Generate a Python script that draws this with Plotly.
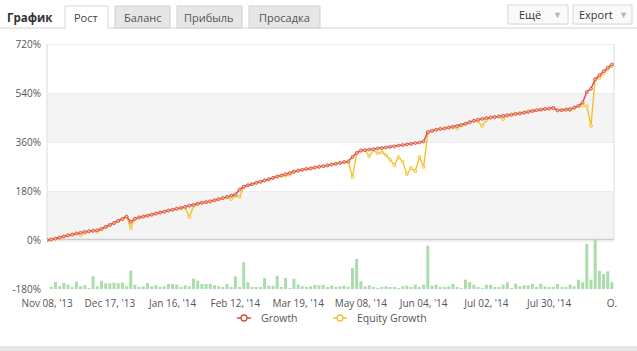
import plotly.graph_objects as go

# ---------------- data ----------------
tick_labels = ["Nov 08, '13", "Dec 17, '13", "Jan 16, '14", "Feb 12, '14", "Mar 19, '14",
               "May 08, '14", "Jun 04, '14", "Jul 02, '14", "Jul 30, '14", "O."]
y_ticks = [-180, 0, 180, 360, 540, 720]
series_names = ["Growth", "Equity Growth"]

growth = [0, 2, 5, 9, 13, 17, 20, 24, 27, 30,
          32, 34, 36, 41, 48, 55, 62, 70, 77, 86,
          67, 78, 83, 86, 89, 93, 97, 101, 104, 108,
          111, 115, 118, 122, 126, 129, 133, 137, 139, 142,
          146, 150, 154, 158, 163, 167, 185, 196, 201, 205,
          210, 214, 219, 223, 228, 233, 237, 242, 246, 251,
          255, 258, 261, 263, 266, 269, 271, 274, 277, 280,
          283, 286, 289, 305, 320, 329, 330, 332, 334, 336,
          338, 340, 342, 344, 347, 349, 351, 353, 356, 358,
          362, 397, 401, 405, 408, 410, 413, 416, 419, 422,
          427, 433, 438, 442, 445, 448, 450, 452, 454, 456,
          458, 460, 463, 465, 468, 471, 474, 477, 479, 481,
          483, 485, 476, 477, 479, 481, 486, 493, 505, 544,
          556, 590, 605, 620, 633, 645]

equity = [0, 2, 5, 9, 13, 17, 20, 24, 18, 26,
          32, 34, 30, 40, 48, 55, 62, 70, 77, 86,
          44, 78, 83, 86, 89, 93, 97, 101, 104, 108,
          111, 115, 118, 118, 84, 125, 133, 137, 139, 142,
          146, 150, 154, 158, 150, 163, 158, 195, 201, 205,
          210, 214, 219, 223, 228, 233, 237, 236, 240, 251,
          255, 258, 261, 263, 266, 269, 271, 274, 277, 280,
          283, 286, 285, 231, 319, 327, 330, 308, 330, 319,
          323, 312, 295, 275, 305, 287, 242, 264, 253, 305,
          268, 393, 401, 405, 408, 410, 413, 414, 411, 422,
          427, 433, 438, 436, 419, 440, 450, 452, 454, 444,
          458, 460, 463, 465, 468, 471, 474, 477, 479, 481,
          483, 485, 476, 477, 479, 477, 486, 491, 494, 492,
          419, 591, 595, 612, 628, 639]

daily = [0, 6.2, 25.7, 9.9, 22, 15.8, 7.3, 26.8, 9.9, 13.6,
         1.8, 46.6, 9.9, 30.5, 20.9, 20.9, 23.1, 20.9, 23.1, 9.9,
         67.2, 15.8, 6.2, 9.9, 22, 9.9, 13.6, 7.3, 9.9, 18.4,
         18.4, 15.8, 6.2, 13.6, 9.9, 37.8, 30.5, 18.4, 18.4, 18.4,
         13.6, 9.9, 6.2, 18.4, 3.7, 46.6, 3.7, 98, 24.6, 7.3,
         6.2, 6.2, 40.4, 12.1, 12.1, 48.9, 6.2, 40.4, 1.1, 37.8,
         15.8, 9.9, 7.3, 9.9, 15.8, 13.6, 15.8, 6.2, 12.1, 7.3,
         9.9, 12.1, 6.2, 77.1, 110.2, 28.3, 9.9, 13.6, 7.3, 1.1,
         7.3, 9.9, 7.3, 6.2, 2.6, 9.9, 12.1, 6.2, 15.8, 7.3,
         15.8, 159, 12.1, 15.8, 3.7, 7.3, 9.9, 18.4, 6.2, 2.6,
         34.2, 25.7, 15.8, 6.2, 1.1, 15.8, 15.8, 3.7, 3.7, 15.8,
         24.6, 1.1, 19.5, 9.9, 13.6, 13.6, 18.4, 7.3, 19.5, 9.9,
         7.3, 7.3, 18.4, 6.2, 7.3, 15.8, 9.9, 34.2, 24.6, 166.4,
         34.2, 181, 67.2, 55.1, 65, 24.6]

idx = list(range(len(growth)))
tick_idx = idx[::15]

# ---------------- layout geometry ----------------
W_PX, H_PX = 637, 351
L, R, T, B = 47, 614, 44, 289
PW, PH = R - L, B - T


def px(x):
    return (x - L) / PW


def py(y):
    return (B - y) / PH


RED = "#dc4b3e"
YEL = "#f3c12e"
GREEN = "#abdcab"
FONT = "Open Sans, Liberation Sans, Arial, sans-serif"

fig = go.Figure()
fig.add_trace(go.Bar(x=idx, y=daily, base=y_ticks[0], marker_color=GREEN,
                     marker_line_width=0, width=0.72, showlegend=False,
                     hoverinfo="skip"))
fig.add_trace(go.Scatter(x=idx, y=equity, name=series_names[1], mode="lines+markers",
                         line=dict(color=YEL, width=1.4), showlegend=False,
                         marker=dict(symbol="circle", size=3, color="#fbe7a8",
                                     line=dict(color=YEL, width=0.8))))
fig.add_trace(go.Scatter(x=idx, y=growth, name=series_names[0], mode="lines+markers",
                         line=dict(color=RED, width=1.4), showlegend=False,
                         marker=dict(symbol="circle", size=3, color="#f3b3ac",
                                     line=dict(color=RED, width=0.8))))

shapes = []
# background bands
for lo, hi in [(0, 180), (360, 540)]:
    shapes.append(dict(type="rect", xref="paper", yref="y", x0=0, x1=1, y0=lo, y1=hi,
                       fillcolor="#f4f4f4", line_width=0, layer="below"))
# box around upper chart
shapes.append(dict(type="rect", xref="paper", yref="y", x0=0, x1=1, y0=0, y1=720,
                   line=dict(color="#dcdcdc", width=1), fillcolor="rgba(0,0,0,0)",
                   layer="below"))
# zero line
shapes.append(dict(type="line", xref="paper", yref="y", x0=0, x1=1, y0=0, y1=0,
                   line=dict(color="#cccccc", width=2.5), layer="below"))

# header: bottom line of tabs
shapes.append(dict(type="line", xref="paper", yref="paper", x0=px(0), x1=px(637),
                   y0=py(28), y1=py(28), line=dict(color="#d3d3d3", width=1)))
# inactive tabs
for x0, x1 in [(115, 170), (177, 242), (249, 320)]:
    shapes.append(dict(type="rect", xref="paper", yref="paper", x0=px(x0), x1=px(x1),
                       y0=py(28), y1=py(6), fillcolor="#e6e6e6",
                       line=dict(color="#d0d0d0", width=1)))
# active tab
shapes.append(dict(type="rect", xref="paper", yref="paper", x0=px(65), x1=px(108),
                   y0=py(28), y1=py(6), fillcolor="#ffffff",
                   line=dict(color="#d6d6d6", width=1)))
shapes.append(dict(type="line", xref="paper", yref="paper", x0=px(65.5), x1=px(107.5),
                   y0=py(28), y1=py(28), line=dict(color="#ffffff", width=2)))
# buttons
for x0, x1 in [(508, 568), (573, 632)]:
    shapes.append(dict(type="rect", xref="paper", yref="paper", x0=px(x0), x1=px(x1),
                       y0=py(24), y1=py(5), fillcolor="#fafafa",
                       line=dict(color="#d6d6d6", width=1)))
# bottom gray strip
shapes.append(dict(type="rect", xref="paper", yref="paper", x0=px(0), x1=px(637),
                   y0=py(351), y1=py(346), fillcolor="#e6e6e6", line_width=0))

# custom legend (short line + circle symbol)
legend_items = [(series_names[0], RED, 244, 259),
                (series_names[1], YEL, 340, 355)]
for name, col, cx, tx in legend_items:
    shapes.append(dict(type="line", xref="paper", yref="paper", x0=px(cx - 7), x1=px(cx + 7),
                       y0=py(318), y1=py(318), line=dict(color=col, width=1.5)))
    shapes.append(dict(type="circle", xref="paper", yref="paper", x0=px(cx - 3), x1=px(cx + 3),
                       y0=py(321), y1=py(315), fillcolor="white",
                       line=dict(color=col, width=1.3)))

ann = []


def label(text, x, y, size=11, color="#444", bold=False, anchor="center"):
    ann.append(dict(text=("<b>%s</b>" % text) if bold else text, xref="paper", yref="paper",
                    x=px(x), y=py(y), showarrow=False, xanchor=anchor, yanchor="middle",
                    font=dict(size=size, color=color, family=FONT)))


label("График", 30, 17, size=11.5, color="#333", bold=True)
label("Рост", 86, 17, color="#444")
label("Баланс", 142, 17, color="#555")
label("Прибыль", 209, 17, color="#555")
label("Просадка", 284, 17, color="#555")
label("Ещё", 530, 14, color="#333")
label("▼", 557, 14, size=9, color="#b5b5b5")
label("Export", 596, 14, color="#333")
label("▼", 623, 14, size=9, color="#b5b5b5")
for name, col, cx, tx in legend_items:
    label(name, tx, 318, size=10.5, color="#555", anchor="left")

fig.update_layout(
    width=W_PX, height=H_PX,
    margin=dict(l=L, r=W_PX - R, t=T, b=H_PX - B, pad=0),
    paper_bgcolor="white", plot_bgcolor="white",
    font=dict(family=FONT, size=10, color="#555"),
    showlegend=False,
    xaxis=dict(range=[-0.02, 135.5], tickvals=tick_idx, ticktext=tick_labels,
               showgrid=False, zeroline=False, showline=False, ticks="",
               ticklabelstandoff=7,
               tickfont=dict(size=10, color="#555"), fixedrange=True),
    yaxis=dict(range=[-180, 720], tickvals=y_ticks,
               ticktext=["%d%%" % v for v in y_ticks],
               showgrid=True, gridcolor="#ececec", gridwidth=1, zeroline=False,
               showline=False, ticks="", ticklabelstandoff=5,
               tickfont=dict(size=10, color="#555"), fixedrange=True),
    shapes=shapes, annotations=ann,
)

fig.write_html("out.html")
